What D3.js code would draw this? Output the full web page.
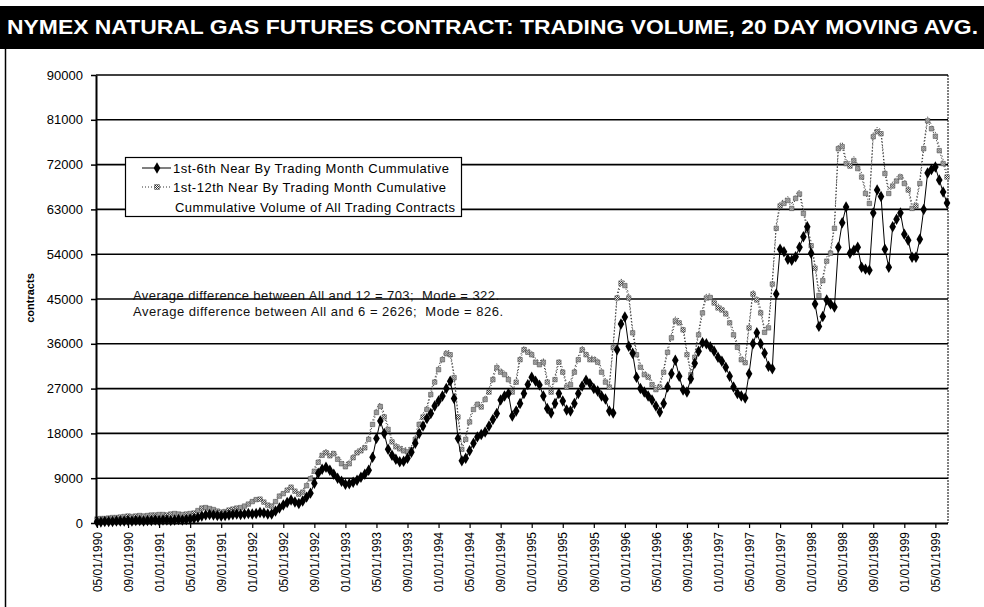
<!DOCTYPE html>
<html>
<head>
<meta charset="utf-8">
<script src="https://cdn.jsdelivr.net/npm/d3@7"></script>
<style>
  body { margin: 0; background: #fff; }
  svg { display: block; font-family: "Liberation Sans", Arial, sans-serif; }
</style>
</head>
<body>
<div id="chart"></div>
<script>
const titleText = `NYMEX NATURAL GAS FUTURES CONTRACT: TRADING VOLUME, 20 DAY MOVING AVG.`;
const yTitle = `contracts`;
const seriesNames = [
  `1st-6th Near By Trading Month Cummulative`,
  `1st-12th Near By Trading Month Cumulative`,
  `Cummulative Volume of All Trading Contracts`,
];
const noteLines = [
  `Average difference between All and 12 = 703;  Mode = 322.`,
  `Average difference between All and 6 = 2626;  Mode = 826.`,
];
const yTicks = [0, 9000, 18000, 27000, 36000, 45000, 54000, 63000, 72000, 81000, 90000];
// one label every 8 half-month periods
const tickLabels = [
  `05/01/1990`, `09/01/1990`, `01/01/1991`, `05/01/1991`, `09/01/1991`, `01/01/1992`, `05/01/1992`,
  `09/01/1992`, `01/01/1993`, `05/01/1993`, `09/01/1993`, `01/01/1994`, `05/01/1994`, `09/01/1994`,
  `01/01/1995`, `05/01/1995`, `09/01/1995`, `01/01/1996`, `05/01/1996`, `09/01/1996`, `01/01/1997`,
  `05/01/1997`, `09/01/1997`, `01/01/1998`, `05/01/1998`, `09/01/1998`, `01/01/1999`, `05/01/1999`,
];

// readings, thousands of contracts, one value per half month from 05/01/1990
const near6 = [
  0.2, 0.2, 0.3, 0.3, 0.3, 0.4, 0.4, 0.4, 0.5, 0.4,
  0.5, 0.5, 0.4, 0.5, 0.5, 0.6, 0.5, 0.6, 0.6, 0.5,
  0.6, 0.7, 0.6, 0.7, 0.8, 0.9, 1.1, 1.4, 1.6, 1.7,
  1.6, 1.5, 1.4, 1.5, 1.6, 1.7, 1.8, 1.7, 1.8, 1.9,
  1.8, 1.9, 2.1, 2.0, 1.8, 1.8, 2.4, 3.0, 3.6, 4.1,
  4.6, 4.2, 3.9, 4.4, 5.2, 6.0, 8.0, 10.0, 10.8, 11.2,
  10.6, 9.8, 9.0, 8.4, 7.8, 7.9, 8.2, 8.6, 9.2, 9.8,
  10.6, 13.2, 17.0, 20.5, 18.0, 14.8, 13.6, 12.8, 12.3, 12.4,
  13.0, 14.2, 16.0, 18.0, 19.5, 21.0, 22.0, 23.5, 24.5, 25.5,
  27.0, 28.5, 25.0, 17.0, 12.5, 13.0, 14.5, 16.0, 17.3, 17.8,
  18.3, 19.5, 20.8, 22.0, 24.7, 25.5, 26.0, 21.5, 22.5, 24.0,
  26.0, 27.8, 29.3, 28.5, 27.7, 25.5, 23.0, 22.1, 24.0, 26.0,
  24.5, 22.7, 22.5, 24.0, 26.0, 27.5, 28.7, 28.0, 27.0, 26.5,
  25.5, 24.9, 22.5, 22.1, 34.8, 40.0, 41.4, 35.5, 34.1, 29.3,
  27.0, 26.3, 25.5, 24.7, 23.5, 22.3, 24.0, 27.3, 30.0, 32.7,
  29.5, 26.7, 26.3, 29.0, 32.1, 34.5, 36.2, 36.0, 35.4, 34.5,
  33.3, 32.5, 31.3, 29.5, 27.3, 26.0, 25.5, 25.1, 30.0, 36.0,
  38.2, 36.0, 34.1, 31.5, 31.0, 46.0, 55.0, 54.5, 53.0, 52.8,
  53.5, 55.4, 57.5, 59.5, 54.2, 44.0, 39.5, 41.5, 44.8, 44.0,
  43.4, 55.4, 60.3, 63.5, 54.2, 54.8, 55.4, 51.4, 51.0, 50.8,
  62.3, 66.9, 65.6, 55.0, 51.4, 59.5, 61.0, 62.3, 58.0, 56.8,
  53.4, 53.4, 57.0, 63.0, 70.3, 71.0, 71.5, 68.9, 66.5, 64.3,
];
const near12 = [
  0.8, 0.9, 0.9, 1.0, 1.1, 1.1, 1.2, 1.3, 1.4, 1.3,
  1.4, 1.5, 1.4, 1.5, 1.6, 1.6, 1.7, 1.7, 1.6, 1.8,
  1.9, 1.8, 1.7, 1.8, 1.9, 2.0, 2.5, 3.0, 3.1, 2.9,
  2.7, 2.4, 2.2, 2.3, 2.6, 2.8, 3.0, 3.1, 3.4, 3.8,
  4.3, 4.7, 4.8, 4.2, 3.6, 3.4, 4.3, 5.4, 5.9, 6.6,
  7.2, 6.4, 5.8, 6.2, 7.5, 8.9, 10.4, 12.2, 13.6, 14.1,
  13.5, 13.9, 12.8, 11.9, 11.3, 11.9, 13.1, 14.1, 14.5, 15.1,
  16.8, 19.8, 22.2, 23.4, 21.3, 18.8, 16.3, 15.3, 14.9, 14.5,
  14.3, 14.7, 16.8, 19.8, 21.3, 22.8, 25.8, 28.3, 30.8, 32.8,
  34.0, 33.8, 29.2, 21.3, 14.8, 16.8, 20.3, 22.8, 23.8, 23.3,
  24.8, 26.3, 28.8, 31.2, 30.3, 29.8, 28.8, 26.3, 28.3, 32.8,
  34.8, 34.3, 33.8, 32.3, 31.8, 32.3, 28.3, 26.3, 28.8, 32.3,
  30.3, 27.3, 27.8, 30.3, 32.8, 34.8, 33.8, 32.8, 32.8, 32.3,
  30.3, 28.3, 27.3, 35.2, 45.2, 48.2, 47.7, 45.2, 38.2, 33.8,
  31.3, 29.8, 29.3, 27.8, 26.8, 27.3, 30.3, 34.3, 37.2, 40.6,
  40.2, 38.8, 33.8, 29.8, 33.3, 37.8, 42.2, 45.2, 45.3, 44.2,
  43.2, 42.8, 42.0, 40.2, 37.8, 35.3, 32.8, 32.2, 39.2, 46.0,
  44.8, 42.2, 38.3, 39.2, 48.0, 59.2, 63.7, 64.2, 64.8, 63.2,
  65.2, 66.1, 62.2, 58.7, 55.7, 51.2, 45.7, 48.7, 52.6, 54.2,
  59.2, 75.2, 75.6, 72.2, 71.7, 72.8, 71.2, 69.5, 66.2, 64.2,
  77.6, 78.6, 78.2, 70.2, 66.2, 67.7, 68.7, 69.5, 68.2, 66.9,
  63.2, 63.7, 68.2, 75.2, 80.8, 79.2, 77.7, 74.8, 72.2, 69.5,
];
const allContracts = [
  1.0, 1.1, 1.1, 1.2, 1.3, 1.3, 1.4, 1.5, 1.6, 1.5,
  1.6, 1.7, 1.6, 1.7, 1.8, 1.8, 1.9, 1.9, 1.8, 2.0,
  2.1, 2.0, 1.9, 2.0, 2.1, 2.2, 2.7, 3.3, 3.4, 3.1,
  2.9, 2.6, 2.4, 2.5, 2.8, 3.0, 3.2, 3.3, 3.6, 4.1,
  4.6, 5.0, 5.1, 4.5, 3.9, 3.6, 4.6, 5.8, 6.3, 7.0,
  7.6, 6.8, 6.2, 6.6, 8.0, 9.4, 11.0, 12.8, 14.3, 14.8,
  14.2, 14.6, 13.5, 12.6, 12.0, 12.6, 13.8, 14.8, 15.2, 15.8,
  17.5, 20.5, 23.0, 24.2, 22.0, 19.5, 17.0, 16.0, 15.6, 15.2,
  15.0, 15.4, 17.5, 20.5, 22.0, 23.5, 26.5, 29.0, 31.5, 33.5,
  34.8, 34.5, 30.0, 22.0, 15.5, 17.5, 21.0, 23.5, 24.5, 24.0,
  25.5, 27.0, 29.5, 32.0, 31.0, 30.5, 29.5, 27.0, 29.0, 33.5,
  35.5, 35.0, 34.5, 33.0, 32.5, 33.0, 29.0, 27.0, 29.5, 33.0,
  31.0, 28.0, 28.5, 31.0, 33.5, 35.5, 34.5, 33.5, 33.5, 33.0,
  31.0, 29.0, 28.0, 36.0, 46.0, 49.0, 48.5, 46.0, 39.0, 34.5,
  32.0, 30.5, 30.0, 28.5, 27.5, 28.0, 31.0, 35.0, 38.0, 41.4,
  41.0, 39.5, 34.5, 30.5, 34.0, 38.5, 43.0, 46.0, 46.0, 45.0,
  44.0, 43.5, 42.8, 41.0, 38.5, 36.0, 33.5, 33.0, 40.0, 46.8,
  45.5, 43.0, 39.0, 40.0, 48.8, 60.0, 64.5, 65.0, 65.6, 64.0,
  66.0, 66.9, 63.0, 59.5, 56.5, 52.0, 46.5, 49.5, 53.4, 55.0,
  60.0, 76.0, 76.5, 73.0, 72.5, 73.6, 72.0, 70.3, 67.0, 65.0,
  78.5, 79.5, 79.0, 71.0, 67.0, 68.5, 69.5, 70.3, 69.0, 67.7,
  64.0, 64.5, 69.0, 76.0, 81.6, 80.0, 78.5, 75.6, 73.0, 70.3,
];

const options = {
  width: 984,
  height: 607,
  plot: { left: 96, right: 948, top: 75, bottom: 523 },
  firstX: 97,
  lastX: 947,
  legend: { x: 125.5, y: 157.5, width: 336, height: 59, rows: [168, 187, 207], textX: 173 },
  legendTextLength: [276, 273, 280],
  noteTextLength: [366, 370],
};

function renderChart(domId) {
  const id = domId.replace(/^#/i, ``);
  d3.select(`#${id}`).selectAll(`*`).remove();

  const svg = d3
    .select(`#${id}`)
    .append(`svg`)
    .attr(`width`, options.width)
    .attr(`height`, options.height);

  const p = options.plot;

  // pattern for the hatched grey squares
  const pat = svg.append(`defs`).append(`pattern`)
    .attr(`id`, `hatch`)
    .attr(`width`, 2).attr(`height`, 2)
    .attr(`patternUnits`, `userSpaceOnUse`);
  pat.append(`rect`).attr(`width`, 2).attr(`height`, 2).attr(`fill`, `#fff`);
  pat.append(`rect`).attr(`width`, 1).attr(`height`, 1).attr(`fill`, `#333`);
  pat.append(`rect`).attr(`x`, 1).attr(`y`, 1).attr(`width`, 1).attr(`height`, 1).attr(`fill`, `#333`);

  // title band
  svg.append(`rect`)
    .attr(`x`, 0).attr(`y`, 6)
    .attr(`width`, options.width).attr(`height`, 43)
    .attr(`fill`, `#000`);
  svg.append(`text`)
    .attr(`x`, 7).attr(`y`, 34)
    .attr(`fill`, `#fff`)
    .attr(`font-weight`, `bold`)
    .attr(`font-size`, 21)
    .attr(`textLength`, 971)
    .attr(`lengthAdjust`, `spacingAndGlyphs`)
    .text(titleText);

  // frame line on the left
  svg.append(`line`)
    .attr(`x1`, 5.5).attr(`x2`, 5.5)
    .attr(`y1`, 49).attr(`y2`, options.height)
    .attr(`stroke`, `#000`).attr(`stroke-width`, 1.5);

  const xScale = d3.scaleLinear()
    .domain([0, allContracts.length - 1])
    .range([options.firstX, options.lastX]);
  const yScale = d3.scaleLinear()
    .domain([0, 90000])
    .range([p.bottom, p.top]);

  // gridlines
  svg.append(`g`)
    .selectAll(`line`)
    .data(yTicks.filter((d) => d > 0))
    .enter()
    .append(`line`)
    .attr(`x1`, p.left).attr(`x2`, p.right)
    .attr(`y1`, (d) => yScale(d)).attr(`y2`, (d) => yScale(d))
    .attr(`stroke`, `#000`)
    .attr(`stroke-width`, 1.6);

  // right border of the plot, dotted
  svg.append(`line`)
    .attr(`x1`, p.right).attr(`x2`, p.right)
    .attr(`y1`, p.top).attr(`y2`, p.bottom)
    .attr(`stroke`, `#000`)
    .attr(`stroke-width`, 1)
    .attr(`stroke-dasharray`, `2,1`);

  // notes
  svg.append(`g`)
    .selectAll(`text`)
    .data(noteLines)
    .enter()
    .append(`text`)
    .attr(`x`, 133)
    .attr(`y`, (d, i) => 300 + i * 16)
    .attr(`font-size`, 13)
    .attr(`fill`, `#111`)
    .attr(`textLength`, (d, i) => options.noteTextLength[i])
    .attr(`lengthAdjust`, `spacing`)
    .style(`white-space`, `pre`)
    .text((d) => d);

  const xAccessor = (d, i) => xScale(i);
  const yAccessor = (d) => yScale(d * 1000);
  const lineGen = d3.line().x(xAccessor).y(yAccessor);

  // all contracts: light dotted line
  svg.append(`path`)
    .attr(`d`, lineGen(allContracts))
    .attr(`fill`, `none`)
    .attr(`stroke`, `#555`)
    .attr(`stroke-width`, 1)
    .attr(`stroke-dasharray`, `1.5,2`);

  // 1st-12th: dotted line with hatched squares
  svg.append(`path`)
    .attr(`d`, lineGen(near12))
    .attr(`fill`, `none`)
    .attr(`stroke`, `#333`)
    .attr(`stroke-width`, 1)
    .attr(`stroke-dasharray`, `1,2`);
  svg.append(`g`)
    .selectAll(`path`)
    .data(near12)
    .enter()
    .append(`path`)
    .attr(`d`, d3.symbol(d3.symbolSquare, 20))
    .attr(`transform`, (d, i) => `translate(${xAccessor(d, i)},${yAccessor(d)})`)
    .attr(`fill`, `url(#hatch)`)
    .attr(`stroke`, `#444`)
    .attr(`stroke-width`, 0.5);

  // 1st-6th: solid black with diamonds
  svg.append(`path`)
    .attr(`d`, lineGen(near6))
    .attr(`fill`, `none`)
    .attr(`stroke`, `#000`)
    .attr(`stroke-width`, 1);
  svg.append(`g`)
    .selectAll(`path`)
    .data(near6)
    .enter()
    .append(`path`)
    .attr(`d`, d3.symbol(d3.symbolDiamond, 38))
    .attr(`transform`, (d, i) => `translate(${xAccessor(d, i)},${yAccessor(d)})`)
    .attr(`fill`, `#000`);

  // y axis
  const yAxis = svg.append(`g`)
    .attr(`transform`, `translate(${p.left},0)`)
    .call(
      d3.axisLeft(yScale)
        .tickValues(yTicks)
        .tickFormat(d3.format(`d`))
        .tickSize(5)
        .tickPadding(8)
        .tickSizeOuter(0)
    );
  yAxis.select(`.domain`).attr(`stroke-width`, 2);
  yAxis.selectAll(`.tick line`).attr(`stroke-width`, 1.5);
  yAxis.selectAll(`.tick text`)
    .attr(`font-size`, 13)
    .attr(`font-family`, `"Liberation Sans", Arial, sans-serif`)
    .attr(`fill`, `#000`);

  svg.append(`text`)
    .attr(`transform`, `translate(34,298) rotate(-90)`)
    .attr(`text-anchor`, `middle`)
    .attr(`font-size`, 11)
    .attr(`font-weight`, `bold`)
    .text(yTitle);

  // x axis
  const xAxis = svg.append(`g`)
    .attr(`transform`, `translate(0,${p.bottom})`)
    .call(
      d3.axisBottom(xScale)
        .tickValues(tickLabels.map((d, i) => i * 8))
        .tickFormat((d, i) => tickLabels[i])
        .tickSize(5)
        .tickSizeOuter(0)
    );
  xAxis.select(`.domain`)
    .attr(`d`, `M${p.left},0.5H${p.right}`)
    .attr(`stroke-width`, 2);
  xAxis.selectAll(`.tick line`).attr(`stroke-width`, 1.2);
  xAxis.selectAll(`.tick text`)
    .attr(`font-size`, 12)
    .attr(`font-family`, `"Liberation Sans", Arial, sans-serif`)
    .attr(`fill`, `#000`)
    .attr(`text-anchor`, `end`)
    .attr(`transform`, `translate(0,9) rotate(-90)`)
    .attr(`x`, 0)
    .attr(`y`, 0)
    .attr(`dy`, `0.35em`);

  // legend
  const lg = options.legend;
  const legend = svg.append(`g`);
  legend.append(`rect`)
    .attr(`x`, lg.x).attr(`y`, lg.y)
    .attr(`width`, lg.width).attr(`height`, lg.height)
    .attr(`fill`, `#fff`)
    .attr(`stroke`, `#000`)
    .attr(`stroke-width`, 1.2);
  const rowY = lg.rows;
  // sample lines
  legend.append(`line`)
    .attr(`x1`, 142).attr(`x2`, 171).attr(`y1`, rowY[0]).attr(`y2`, rowY[0])
    .attr(`stroke`, `#000`).attr(`stroke-width`, 1);
  legend.append(`path`)
    .attr(`d`, d3.symbol(d3.symbolDiamond, 38))
    .attr(`transform`, `translate(157,${rowY[0]})`)
    .attr(`fill`, `#000`);
  legend.append(`line`)
    .attr(`x1`, 142).attr(`x2`, 171).attr(`y1`, rowY[1]).attr(`y2`, rowY[1])
    .attr(`stroke`, `#333`).attr(`stroke-width`, 1).attr(`stroke-dasharray`, `1,2`);
  legend.append(`path`)
    .attr(`d`, d3.symbol(d3.symbolSquare, 24))
    .attr(`transform`, `translate(157,${rowY[1]})`)
    .attr(`fill`, `url(#hatch)`)
    .attr(`stroke`, `#444`)
    .attr(`stroke-width`, 0.5);
  legend.selectAll(`text`)
    .data(seriesNames)
    .enter()
    .append(`text`)
    .attr(`x`, (d, i) => (i === 2 ? lg.textX + 2 : lg.textX))
    .attr(`y`, (d, i) => rowY[i])
    .attr(`dy`, `0.35em`)
    .attr(`font-size`, 13)
    .attr(`fill`, `#000`)
    .attr(`textLength`, (d, i) => options.legendTextLength[i])
    .attr(`lengthAdjust`, `spacing`)
    .text((d) => d);
}

renderChart(`#chart`);
</script>
</body>
</html>
